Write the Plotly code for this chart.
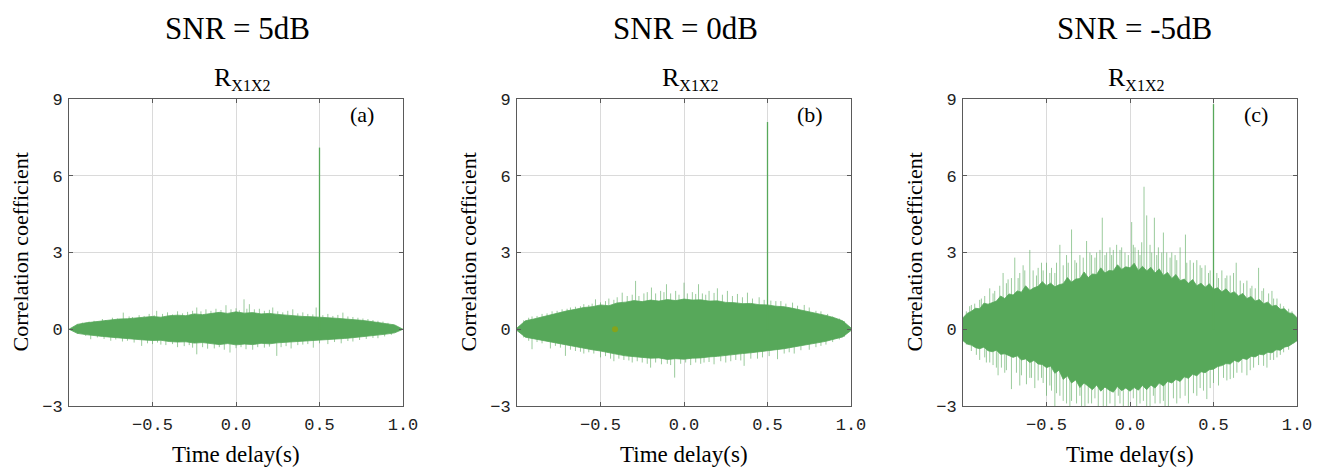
import numpy as np
import plotly.graph_objects as go

# ---------------- data ----------------
titles = ["SNR = 5dB", "SNR = 0dB", "SNR = -5dB"]
letters = ["(a)", "(b)", "(c)"]
x_ticks = [-0.5, 0.0, 0.5, 1.0]
x_ticktext = ["\u22120.5", "0.0", "0.5", "1.0"]
y_ticks = [-3, 0, 3, 6, 9]
y_ticktext = ["\u22123", "0", "3", "6", "9"]

# time-delay grids of the envelope readings
t_env_ab = np.linspace(-1.0, 1.0, 41)   # step 0.05 s
t_env_c = np.linspace(-1.0, 1.0, 81)    # step 0.025 s

# panel (a) SNR = 5 dB : dense core upper / lower edge
a_up = [0.00, 0.19, 0.25, 0.29, 0.33, 0.36, 0.40, 0.41, 0.45, 0.47,
        0.50, 0.47, 0.53, 0.55, 0.53, 0.60, 0.57, 0.62, 0.66, 0.62,
        0.68, 0.63, 0.65, 0.60, 0.62, 0.58, 0.55, 0.54, 0.50, 0.49,
        0.48, 0.45, 0.43, 0.41, 0.38, 0.35, 0.31, 0.27, 0.23, 0.17, 0.00]
a_lo = [0.00, -0.16, -0.21, -0.25, -0.28, -0.31, -0.35, -0.37, -0.40, -0.42,
        -0.44, -0.43, -0.48, -0.50, -0.49, -0.54, -0.52, -0.57, -0.60, -0.56,
        -0.61, -0.58, -0.60, -0.55, -0.57, -0.53, -0.50, -0.49, -0.46, -0.44,
        -0.43, -0.40, -0.38, -0.36, -0.33, -0.30, -0.27, -0.23, -0.19, -0.14, 0.00]
# individual noise excursions beyond the core: (time delay, value)
a_spikes = [(-0.95, 0.2), (-0.92, 0.26), (-0.88, 0.3), (-0.85, 0.33), (-0.8, 0.4),
            (-0.78, 0.36), (-0.74, 0.45), (-0.71, 0.42), (-0.675, 0.65), (-0.64, 0.5),
            (-0.62, 0.48), (-0.58, 0.55), (-0.55, 0.52), (-0.52, 0.6), (-0.49, 0.55),
            (-0.475, 0.72), (-0.44, 0.6), (-0.41, 0.66), (-0.38, 0.58), (-0.35, 0.7),
            (-0.32, 0.62), (-0.29, 0.68), (-0.26, 0.72), (-0.235, 0.85), (-0.21, 0.7),
            (-0.18, 0.78), (-0.15, 0.72), (-0.12, 0.8), (-0.09, 0.75), (-0.06, 0.94),
            (-0.03, 0.78), (0.0, 0.82), (0.02, 0.74), (0.048, 1.17), (0.065, 0.8),
            (0.08, 0.98), (0.11, 0.78), (0.14, 0.8), (0.17, 0.72), (0.2, 0.76),
            (0.22, 0.85), (0.25, 0.7), (0.28, 0.66), (0.31, 0.72), (0.34, 0.78),
            (0.37, 0.62), (0.4, 0.66), (0.43, 0.6), (0.46, 0.58), (0.48, 0.85),
            (0.52, 0.55), (0.55, 0.6), (0.58, 0.52), (0.61, 0.56), (0.64, 0.65),
            (0.67, 0.5), (0.7, 0.48), (0.73, 0.45), (0.76, 0.42), (0.79, 0.4),
            (0.82, 0.36), (0.85, 0.33), (0.88, 0.3), (0.91, 0.25), (0.94, 0.2),
            (-0.95, -0.18), (-0.9, -0.26), (-0.87, -0.39), (-0.83, -0.32), (-0.79, -0.38),
            (-0.75, -0.45), (-0.72, -0.4), (-0.68, -0.48), (-0.65, -0.45), (-0.61, -0.52),
            (-0.565, -0.65), (-0.53, -0.55), (-0.5, -0.58), (-0.47, -0.52), (-0.45, -0.6),
            (-0.42, -0.62), (-0.38, -0.58), (-0.35, -0.7), (-0.31, -0.66), (-0.28, -0.62),
            (-0.26, -0.72), (-0.235, -0.98), (-0.2, -0.7), (-0.17, -0.76), (-0.13, -0.75),
            (-0.1, -0.7), (-0.07, -0.8), (-0.036, -0.91), (0.0, -0.74), (0.03, -0.7),
            (0.06, -0.78), (0.1, -0.8), (0.13, -0.7), (0.17, -0.72), (0.2, -0.68),
            (0.244, -1.04), (0.27, -0.7), (0.3, -0.66), (0.33, -0.75), (0.37, -0.62),
            (0.4, -0.6), (0.43, -0.58), (0.463, -0.72), (0.5, -0.55), (0.55, -0.58),
            (0.59, -0.5), (0.63, -0.55), (0.67, -0.46), (0.7, -0.48), (0.74, -0.42),
            (0.78, -0.38), (0.82, -0.34), (0.85, -0.35), (0.89, -0.28), (0.93, -0.22)]

# panel (b) SNR = 0 dB
b_up = [0.05, 0.33, 0.40, 0.48, 0.57, 0.64, 0.72, 0.78, 0.85, 0.88,
        0.95, 0.92, 1.03, 1.06, 1.12, 1.08, 1.14, 1.10, 1.16, 1.12,
        1.18, 1.14, 1.15, 1.10, 1.11, 1.05, 1.04, 1.00, 1.01, 0.96,
        0.95, 0.90, 0.88, 0.82, 0.75, 0.68, 0.62, 0.54, 0.45, 0.33, 0.05]
b_lo = [-0.05, -0.31, -0.37, -0.44, -0.50, -0.56, -0.63, -0.70, -0.74, -0.80,
        -0.85, -0.90, -0.98, -1.04, -1.08, -1.10, -1.13, -1.12, -1.18, -1.15,
        -1.17, -1.13, -1.12, -1.08, -1.06, -1.01, -0.99, -0.95, -0.92, -0.88,
        -0.86, -0.80, -0.76, -0.70, -0.64, -0.58, -0.53, -0.47, -0.40, -0.30, -0.05]
b_spikes = [(-0.96, 0.35), (-0.93, 0.45), (-0.91, 0.5), (-0.88, 0.52), (-0.85, 0.6),
            (-0.82, 0.62), (-0.79, 0.7), (-0.76, 0.72), (-0.73, 0.78), (-0.7, 0.8),
            (-0.68, 0.85), (-0.65, 0.88), (-0.62, 0.9), (-0.6, 0.98), (-0.57, 0.95),
            (-0.55, 1.0), (-0.53, 1.17), (-0.5, 1.05), (-0.47, 1.1), (-0.45, 1.2),
            (-0.42, 1.15), (-0.4, 1.25), (-0.37, 1.43), (-0.34, 1.3), (-0.31, 1.35),
            (-0.29, 1.89), (-0.27, 1.3), (-0.24, 1.4), (-0.22, 1.45), (-0.195, 1.63),
            (-0.17, 1.4), (-0.14, 1.5), (-0.12, 1.45), (-0.105, 1.76), (-0.08, 1.4),
            (-0.05, 1.5), (-0.03, 1.35), (0.0, 1.82), (0.02, 1.4), (0.05, 1.45),
            (0.07, 1.38), (0.087, 1.76), (0.11, 1.4), (0.13, 1.35), (0.15, 1.5),
            (0.18, 1.42), (0.2, 1.6), (0.23, 1.35), (0.26, 1.5), (0.29, 1.3),
            (0.32, 1.38), (0.35, 1.25), (0.38, 1.43), (0.41, 1.2), (0.45, 1.25),
            (0.48, 1.15), (0.52, 1.12), (0.55, 1.1), (0.58, 1.1), (0.61, 1.0),
            (0.65, 1.04), (0.68, 0.92), (0.72, 0.95), (0.75, 0.85), (0.79, 0.72),
            (0.82, 0.7), (0.86, 0.6), (0.89, 0.5), (0.93, 0.42), (0.96, 0.32),
            (-0.96, -0.32), (-0.93, -0.45), (-0.91, -0.78), (-0.88, -0.5), (-0.85, -0.55),
            (-0.8, -0.75), (-0.77, -0.65), (-0.74, -0.72), (-0.71, -1.04), (-0.68, -0.8),
            (-0.65, -0.85), (-0.62, -0.88), (-0.6, -0.95), (-0.57, -0.9), (-0.54, -0.95),
            (-0.5, -1.1), (-0.47, -1.05), (-0.44, -1.15), (-0.42, -1.25), (-0.39, -1.15),
            (-0.36, -1.2), (-0.33, -1.22), (-0.31, -1.3), (-0.28, -1.25), (-0.25, -1.3),
            (-0.22, -1.35), (-0.2, -1.5), (-0.17, -1.3), (-0.135, -1.37), (-0.1, -1.35),
            (-0.08, -1.4), (-0.056, -1.89), (-0.02, -1.35), (0.01, -1.3), (0.04, -1.4),
            (0.07, -1.3), (0.1, -1.35), (0.12, -1.3), (0.15, -1.28), (0.18, -1.37),
            (0.22, -1.25), (0.25, -1.3), (0.28, -1.25), (0.31, -1.2), (0.34, -1.22),
            (0.36, -1.43), (0.4, -1.15), (0.44, -1.15), (0.47, -1.1), (0.51, -1.05),
            (0.56, -1.17), (0.6, -0.95), (0.63, -0.9), (0.66, -0.95), (0.7, -0.82),
            (0.75, -0.8), (0.79, -0.7), (0.82, -0.65), (0.85, -0.6), (0.89, -0.5),
            (0.93, -0.4), (0.96, -0.3)]
b_dot_x = [-0.413]
b_dot_y = [0.0]

# panel (c) SNR = -5 dB
c_up = [0.45, 0.62, 0.70, 0.82, 0.80, 1.02, 0.98, 1.05, 1.10, 1.30,
        1.20, 1.38, 1.34, 1.50, 1.45, 1.70, 1.52, 1.62, 1.68, 1.86,
        1.70, 1.80, 1.66, 1.74, 1.78, 2.02, 1.84, 1.96, 1.98, 2.24,
        2.02, 2.16, 2.14, 2.40, 2.20, 2.30, 2.28, 2.52, 2.34, 2.44,
        2.40, 2.58, 2.30, 2.46, 2.28, 2.42, 2.20, 2.36, 2.10, 2.22,
        1.98, 2.14, 1.90, 1.96, 1.80, 1.94, 1.70, 1.80, 1.64, 1.78,
        1.56, 1.62, 1.46, 1.58, 1.40, 1.46, 1.30, 1.40, 1.20, 1.28,
        1.10, 1.16, 1.00, 1.06, 0.90, 0.94, 0.78, 0.80, 0.64, 0.62, 0.45]
c_lo = [-0.45, -0.58, -0.62, -0.72, -0.76, -0.70, -0.84, -0.88, -0.82, -0.98,
        -0.96, -1.02, -1.10, -1.04, -1.20, -1.16, -1.30, -1.22, -1.36, -1.38,
        -1.50, -1.44, -1.72, -1.60, -1.96, -1.82, -2.10, -1.98, -2.28, -2.10,
        -2.22, -2.36, -2.18, -2.42, -2.26, -2.38, -2.46, -2.24, -2.40, -2.30,
        -2.42, -2.28, -2.38, -2.20, -2.36, -2.18, -2.30, -2.10, -2.22, -2.04,
        -2.10, -1.96, -2.04, -1.86, -1.92, -1.76, -1.82, -1.66, -1.70, -1.58,
        -1.56, -1.46, -1.42, -1.34, -1.36, -1.22, -1.28, -1.14, -1.18, -1.06,
        -1.08, -0.98, -1.00, -0.90, -0.92, -0.80, -0.82, -0.70, -0.66, -0.56, -0.45]
c_spikes = [(-0.98, 0.7), (-0.96, 0.9), (-0.95, 0.95), (-0.93, 1.0), (-0.9, 1.15),
            (-0.89, 1.2), (-0.87, 1.3), (-0.84, 1.6), (-0.82, 1.4), (-0.81, 1.5),
            (-0.78, 1.7), (-0.76, 2.2), (-0.74, 1.8), (-0.73, 1.95), (-0.71, 2.0),
            (-0.69, 2.8), (-0.67, 2.0), (-0.66, 2.2), (-0.64, 2.5), (-0.63, 2.3),
            (-0.6, 3.1), (-0.58, 2.3), (-0.56, 2.1), (-0.55, 2.4), (-0.53, 2.6),
            (-0.52, 2.3), (-0.5, 2.6), (-0.48, 2.2), (-0.47, 2.4), (-0.45, 2.2),
            (-0.44, 2.6), (-0.42, 3.3), (-0.4, 2.5), (-0.38, 2.9), (-0.37, 2.6),
            (-0.35, 3.9), (-0.33, 2.7), (-0.32, 2.6), (-0.3, 2.9), (-0.28, 2.8),
            (-0.26, 3.45), (-0.24, 3.0), (-0.23, 2.9), (-0.21, 2.8), (-0.2, 3.0),
            (-0.18, 3.1), (-0.166, 4.36), (-0.15, 2.9), (-0.14, 3.0), (-0.12, 3.2),
            (-0.11, 2.9), (-0.1, 3.1), (-0.08, 3.3), (-0.06, 3.1), (-0.05, 3.2),
            (-0.03, 3.0), (-0.01, 2.9), (0.01, 4.19), (0.02, 3.3), (0.03, 3.2),
            (0.05, 3.1), (0.06, 2.9), (0.07, 3.4), (0.084, 5.57), (0.1, 4.45),
            (0.12, 3.3), (0.13, 3.0), (0.146, 4.36), (0.16, 2.9), (0.17, 3.2),
            (0.19, 3.0), (0.2, 3.78), (0.22, 3.0), (0.24, 2.8), (0.25, 3.0),
            (0.27, 2.9), (0.28, 2.7), (0.3, 3.2), (0.332, 3.7), (0.34, 2.6),
            (0.36, 2.7), (0.38, 2.6), (0.4, 2.7), (0.42, 2.5), (0.43, 2.4),
            (0.45, 2.5), (0.47, 2.2), (0.48, 2.3), (0.52, 2.2), (0.53, 2.0),
            (0.55, 2.3), (0.57, 2.0), (0.58, 2.1), (0.6, 2.1), (0.62, 2.2),
            (0.636, 2.6), (0.66, 1.9), (0.68, 1.8), (0.7, 1.9), (0.72, 1.6),
            (0.73, 1.7), (0.75, 1.6), (0.77, 2.4), (0.79, 1.5), (0.8, 1.6),
            (0.83, 1.4), (0.85, 1.5), (0.86, 1.2), (0.88, 1.2), (0.9, 1.0),
            (0.92, 0.9), (0.95, 0.8), (0.97, 0.7),
            (-0.98, -0.6), (-0.95, -0.85), (-0.92, -1.0), (-0.9, -1.2), (-0.87, -1.1),
            (-0.86, -1.3), (-0.84, -1.3), (-0.82, -1.4), (-0.8, -1.5), (-0.79, -1.8),
            (-0.77, -1.5), (-0.75, -1.7), (-0.74, -1.6), (-0.71, -2.34), (-0.68, -1.7),
            (-0.66, -2.2), (-0.65, -1.8), (-0.62, -2.15), (-0.6, -1.9), (-0.59, -1.9),
            (-0.57, -2.3), (-0.55, -2.0), (-0.53, -1.9), (-0.52, -2.1), (-0.5, -2.6),
            (-0.48, -2.2), (-0.47, -2.4), (-0.45, -3.0), (-0.44, -2.5), (-0.42, -2.6),
            (-0.4, -2.8), (-0.38, -2.9), (-0.36, -3.1), (-0.35, -2.8), (-0.32, -2.9),
            (-0.3, -2.6), (-0.29, -3.0), (-0.27, -3.2), (-0.25, -2.9), (-0.23, -2.9),
            (-0.21, -2.7), (-0.19, -3.2), (-0.16, -3.0), (-0.14, -3.1), (-0.12, -2.9),
            (-0.09, -3.0), (-0.07, -2.6), (-0.06, -2.9), (-0.04, -3.2), (-0.01, -3.0),
            (0.02, -2.7), (0.04, -3.2), (0.06, -2.9), (0.08, -2.8), (0.1, -3.0),
            (0.12, -3.2), (0.14, -2.6), (0.15, -2.9), (0.18, -2.9), (0.2, -2.8),
            (0.21, -3.1), (0.23, -3.2), (0.26, -2.7), (0.28, -2.9), (0.3, -2.7),
            (0.33, -2.6), (0.35, -2.9), (0.38, -2.5), (0.4, -2.6), (0.42, -2.3),
            (0.44, -2.4), (0.46, -2.73), (0.48, -2.3), (0.5, -2.1), (0.53, -2.2),
            (0.56, -1.9), (0.58, -2.0), (0.6, -1.95), (0.62, -1.9), (0.64, -1.7),
            (0.67, -1.7), (0.7, -1.8), (0.72, -1.6), (0.74, -1.5), (0.77, -1.4),
            (0.8, -1.43), (0.82, -1.5), (0.84, -1.2), (0.86, -1.2), (0.88, -1.1),
            (0.9, -1.0), (0.92, -0.9), (0.95, -0.8), (0.98, -0.55)]

# correlation peak at the true delay
peak_x = [0.5, 0.5, 0.5]
peak_y = [7.1, 8.1, 8.8]

panels = [(t_env_ab, a_up, a_lo, a_spikes),
          (t_env_ab, b_up, b_lo, b_spikes),
          (t_env_c, c_up, c_lo, c_spikes)]

# ---------------- styling / layout ----------------
VIEW_W, VIEW_H = 1322, 467
OFF = 8                      # page body margin of the html page
W, H = VIEW_W - OFF, VIEW_H - OFF
GREEN = "rgb(87,168,90)"
LIGHT = "rgba(87,168,90,0.6)"
SERIF = "Liberation Serif, Times New Roman, serif"
TICKFONT = "Liberation Mono, Courier New, monospace"
px_left = [69, 517, 963]
px_right = [403, 851, 1297]
px_top, px_bot = 99, 406


def fx(p):
    return (p - OFF) / W


def fy(p):
    return 1 - (p - OFF) / H


fig = go.Figure()
for k, (tg, up, lo, spikes) in enumerate(panels):
    xa = "x" if k == 0 else f"x{k+1}"
    ya = "y" if k == 0 else f"y{k+1}"
    xs, ys = [], []
    for xv, yv in spikes:
        xs += [xv, xv, None]
        ys += [0, yv, None]
    fig.add_trace(go.Scatter(x=xs, y=ys, mode="lines", line=dict(color=LIGHT, width=1),
                             xaxis=xa, yaxis=ya, showlegend=False, hoverinfo="skip"))
    t = list(tg)
    fig.add_trace(go.Scatter(x=t + t[::-1], y=list(up) + list(lo)[::-1], mode="lines",
                             fill="toself", fillcolor=GREEN, line=dict(color=GREEN, width=0.8),
                             xaxis=xa, yaxis=ya, showlegend=False, hoverinfo="skip"))
    fig.add_trace(go.Scatter(x=[peak_x[k], peak_x[k]], y=[0, peak_y[k]], mode="lines",
                             line=dict(color=GREEN, width=1.3),
                             xaxis=xa, yaxis=ya, showlegend=False, hoverinfo="skip"))
    if k == 1:
        fig.add_trace(go.Scatter(x=b_dot_x, y=b_dot_y, mode="markers",
                                 marker=dict(color="rgb(134,163,27)", size=6),
                                 xaxis=xa, yaxis=ya, showlegend=False, hoverinfo="skip"))

    dom_x = [fx(px_left[k]), fx(px_right[k])]
    dom_y = [fy(px_bot), fy(px_top)]
    axcommon = dict(showline=True, linecolor="#5a5a5a", linewidth=1, mirror="ticks",
                    ticks="inside", ticklen=4, tickcolor="#5a5a5a", automargin=False,
                    showgrid=True, gridcolor="#dadada", gridwidth=1, zeroline=False,
                    tickfont=dict(family=TICKFONT, size=17, color="#222"))
    xkey = "xaxis" if k == 0 else f"xaxis{k+1}"
    ykey = "yaxis" if k == 0 else f"yaxis{k+1}"
    fig.update_layout(**{
        xkey: dict(domain=dom_x, range=[-1, 1], tickvals=x_ticks, ticktext=x_ticktext,
                   anchor=ya, ticklabelstandoff=3, **axcommon),
        ykey: dict(domain=dom_y, range=[-3, 9], tickvals=y_ticks, ticktext=y_ticktext,
                   anchor=xa, ticklabelstandoff=2, **axcommon),
    })

    cx = (px_left[k] + px_right[k]) / 2
    ann = [
        dict(text=titles[k], x=fx(cx + (4 if k == 2 else 1)), y=fy(29),
             font=dict(family=SERIF, size=31, color="black")),
        dict(text="R<sub><span style='font-size:16px'>X1X2</span></sub>",
             x=fx(cx + 6), y=fy(79),
             font=dict(family=SERIF, size=26, color="black")),
        dict(text=letters[k], x=fx(px_right[k] - 41), y=fy(114),
             font=dict(family=SERIF, size=22, color="black")),
        dict(text="Correlation coefficient", x=fx(px_left[k] - 49),
             y=fy((px_top + px_bot) / 2), textangle=-90,
             font=dict(family=SERIF, size=22, color="black")),
        dict(text="Time delay(s)", x=fx(cx), y=fy(454),
             font=dict(family=SERIF, size=23, color="black")),
    ]
    for a in ann:
        fig.add_annotation(xref="paper", yref="paper", showarrow=False,
                           xanchor="center", yanchor="middle", **a)

fig.update_layout(template="none", width=W, height=H, margin=dict(l=0, r=0, t=0, b=0),
                  paper_bgcolor="white", plot_bgcolor="white", showlegend=False)
fig.write_html("out.html")
